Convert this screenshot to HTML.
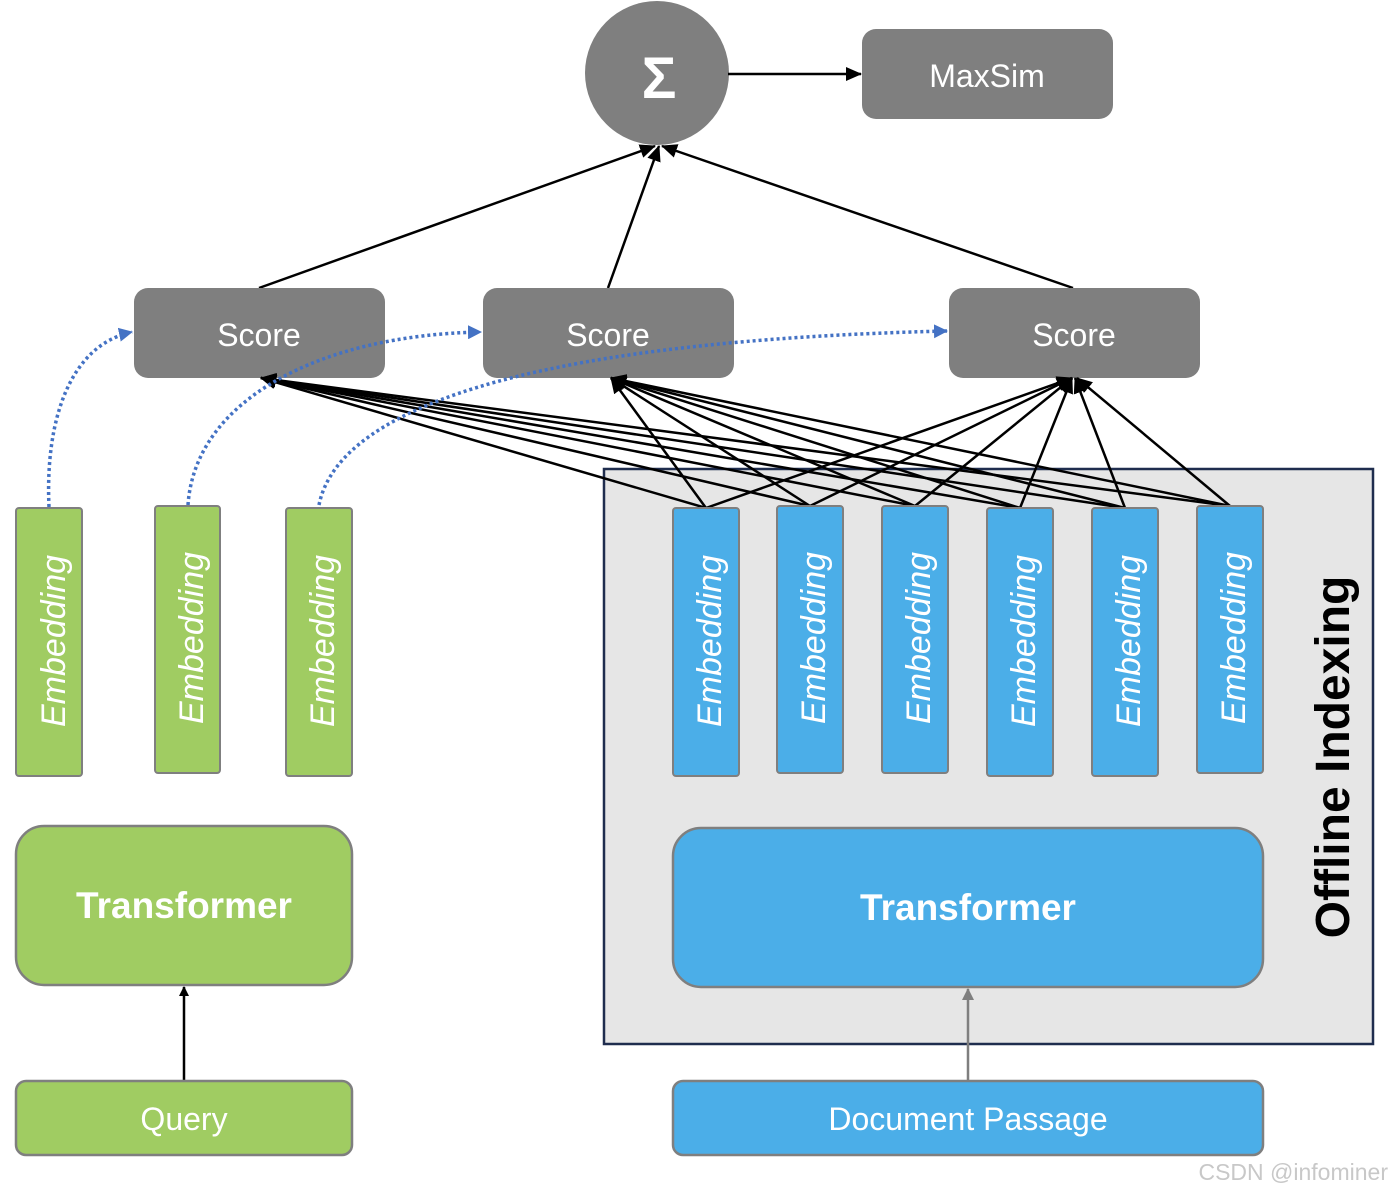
<!DOCTYPE html>
<html><head><meta charset="utf-8"><style>
html,body{margin:0;padding:0;background:#fff}
svg{display:block}
text{font-family:"Liberation Sans","DejaVu Sans",sans-serif}
</style></head><body>
<svg width="1392" height="1194" viewBox="0 0 1392 1194" xmlns="http://www.w3.org/2000/svg">
<defs>
<marker id="ab" markerWidth="10" markerHeight="10" refX="9" refY="5" orient="auto" markerUnits="userSpaceOnUse" viewBox="0 0 10 10"><path d="M0,0 L10,5 L0,10 z" fill="#000"/></marker>
<marker id="ab2" markerWidth="16" markerHeight="14" refX="15" refY="7" orient="auto" markerUnits="userSpaceOnUse" viewBox="0 0 16 14"><path d="M0,0 L16,7 L0,14 z" fill="#000"/></marker>
<marker id="ag" markerWidth="12" markerHeight="12" refX="11" refY="6" orient="auto" markerUnits="userSpaceOnUse"><path d="M0,0 L12,6 L0,12 z" fill="#7f7f7f"/></marker>
<marker id="abl" markerWidth="14" markerHeight="14" refX="13" refY="7" orient="auto" markerUnits="userSpaceOnUse"><path d="M0,0 L14,7 L0,14 z" fill="#4472c4"/></marker>
</defs>

<rect x="604" y="469" width="769" height="575" fill="#e6e6e6" stroke="#1f2d4e" stroke-width="2.5"/>
<text transform="translate(1349,757) rotate(-90)" text-anchor="middle" font-size="48" font-weight="bold" fill="#000">Offline Indexing</text>

<ellipse cx="657" cy="73" rx="72" ry="72" fill="#7f7f7f"/>
<text x="659" y="98" text-anchor="middle" font-size="58" font-weight="bold" fill="#fff">Σ</text>
<line x1="728" y1="74" x2="861" y2="74" stroke="#000" stroke-width="2.5" marker-end="url(#ab2)"/>
<rect x="862" y="29" width="251" height="90" rx="14" fill="#7f7f7f"/>
<text x="987" y="87" text-anchor="middle" font-size="32" fill="#fff">MaxSim</text>

<g stroke="#000" stroke-width="2.5">
<line x1="259" y1="288" x2="655" y2="146" marker-end="url(#ab2)"/>
<line x1="608" y1="288" x2="659" y2="146" marker-end="url(#ab2)"/>
<line x1="1073" y1="288" x2="662" y2="146" marker-end="url(#ab2)"/>
</g>

<rect x="134" y="288" width="251" height="90" rx="14" fill="#7f7f7f"/>
<rect x="483" y="288" width="251" height="90" rx="14" fill="#7f7f7f"/>
<rect x="949" y="288" width="251" height="90" rx="14" fill="#7f7f7f"/>
<text x="259" y="346" text-anchor="middle" font-size="32" fill="#fff">Score</text>
<text x="608" y="346" text-anchor="middle" font-size="32" fill="#fff">Score</text>
<text x="1074" y="346" text-anchor="middle" font-size="32" fill="#fff">Score</text>

<g stroke="#000" stroke-width="2.5" fill="none">
<line x1="706" y1="508" x2="261" y2="378" marker-end="url(#ab2)"/>
<line x1="810" y1="506" x2="261" y2="378" marker-end="url(#ab2)"/>
<line x1="915" y1="506" x2="261" y2="378" marker-end="url(#ab2)"/>
<line x1="1020" y1="508" x2="261" y2="378" marker-end="url(#ab2)"/>
<line x1="1125" y1="508" x2="261" y2="378" marker-end="url(#ab2)"/>
<line x1="1230" y1="506" x2="261" y2="378" marker-end="url(#ab2)"/>
<line x1="706" y1="508" x2="611" y2="378" marker-end="url(#ab2)"/>
<line x1="810" y1="506" x2="611" y2="378" marker-end="url(#ab2)"/>
<line x1="915" y1="506" x2="611" y2="378" marker-end="url(#ab2)"/>
<line x1="1020" y1="508" x2="611" y2="378" marker-end="url(#ab2)"/>
<line x1="1125" y1="508" x2="611" y2="378" marker-end="url(#ab2)"/>
<line x1="1230" y1="506" x2="611" y2="378" marker-end="url(#ab2)"/>
<line x1="706" y1="508" x2="1072" y2="378" marker-end="url(#ab2)"/>
<line x1="810" y1="506" x2="1072" y2="378" marker-end="url(#ab2)"/>
<line x1="915" y1="506" x2="1072" y2="378" marker-end="url(#ab2)"/>
<line x1="1020" y1="508" x2="1072" y2="378" marker-end="url(#ab2)"/>
<line x1="1125" y1="508" x2="1075" y2="378" marker-end="url(#ab2)"/>
<line x1="1230" y1="506" x2="1077" y2="378" marker-end="url(#ab2)"/>
</g>

<g stroke="#4472c4" stroke-width="3.5" fill="none" stroke-dasharray="3 3">
<path d="M49,507 C45,420 70,345 132,332" marker-end="url(#abl)"/>
<path d="M188,505 C195,400 320,335 481,332" marker-end="url(#abl)"/>
<path d="M319,505 C340,400 560,340 947,331" marker-end="url(#abl)"/>
</g>

<g fill="#a0cc62" stroke="#7f7f7f" stroke-width="2">
<rect x="16" y="508" width="66" height="268" rx="3"/>
<rect x="155" y="506" width="65" height="267" rx="3"/>
<rect x="286" y="508" width="66" height="268" rx="3"/>
</g>
<g fill="#4baee8" stroke="#7f7f7f" stroke-width="2">
<rect x="673" y="508" width="66" height="268" rx="3"/>
<rect x="777" y="506" width="66" height="267" rx="3"/>
<rect x="882" y="506" width="66" height="267" rx="3"/>
<rect x="987" y="508" width="66" height="268" rx="3"/>
<rect x="1092" y="508" width="66" height="268" rx="3"/>
<rect x="1197" y="506" width="66" height="267" rx="3"/>
</g>
<g font-size="34" font-style="italic" fill="#fff" text-anchor="middle">
<text transform="translate(65,641) rotate(-90)">Embedding</text>
<text transform="translate(203,638) rotate(-90)">Embedding</text>
<text transform="translate(334,641) rotate(-90)">Embedding</text>
<text transform="translate(721,641) rotate(-90)">Embedding</text>
<text transform="translate(825,638) rotate(-90)">Embedding</text>
<text transform="translate(930,638) rotate(-90)">Embedding</text>
<text transform="translate(1035,641) rotate(-90)">Embedding</text>
<text transform="translate(1140,641) rotate(-90)">Embedding</text>
<text transform="translate(1245,638) rotate(-90)">Embedding</text>
</g>

<rect x="16" y="826" width="336" height="159" rx="28" fill="#a0cc62" stroke="#7f7f7f" stroke-width="2.5"/>
<text x="184" y="918" text-anchor="middle" font-size="37" font-weight="bold" fill="#fff">Transformer</text>
<rect x="673" y="828" width="590" height="159" rx="28" fill="#4baee8" stroke="#7f7f7f" stroke-width="2.5"/>
<text x="968" y="920" text-anchor="middle" font-size="37" font-weight="bold" fill="#fff">Transformer</text>

<line x1="184" y1="1080" x2="184" y2="987" stroke="#000" stroke-width="2.5" marker-end="url(#ab)"/>
<line x1="968" y1="1080" x2="968" y2="989" stroke="#7f7f7f" stroke-width="2.5" marker-end="url(#ag)"/>
<rect x="16" y="1081" width="336" height="74" rx="10" fill="#a0cc62" stroke="#7f7f7f" stroke-width="2.5"/>
<text x="184" y="1130" text-anchor="middle" font-size="32" fill="#fff">Query</text>
<rect x="673" y="1081" width="590" height="74" rx="10" fill="#4baee8" stroke="#7f7f7f" stroke-width="2.5"/>
<text x="968" y="1130" text-anchor="middle" font-size="32" fill="#fff">Document Passage</text>

<text x="1388" y="1180" text-anchor="end" font-size="23" fill="#c8c8c8">CSDN @infominer</text>
</svg>
</body></html>
